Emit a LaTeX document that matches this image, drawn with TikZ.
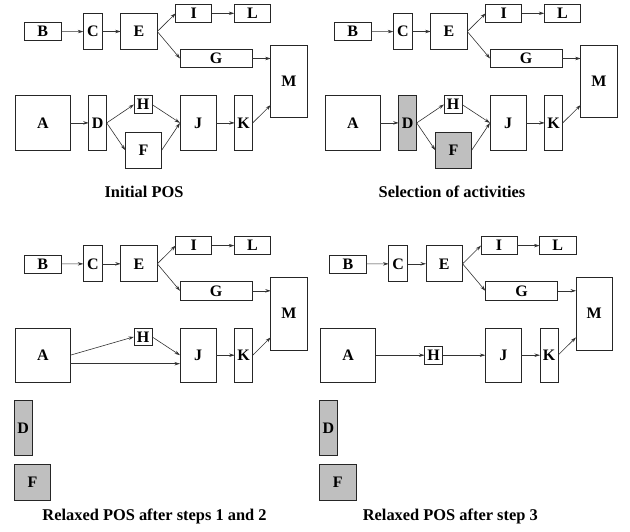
\documentclass[tikz,border=0pt]{standalone}
\usepackage{fontspec}
\setmainfont{Liberation Serif}
\usetikzlibrary{arrows.meta,calc}
\tikzset{
  box/.style={draw=black!85, line width=0.85pt, inner sep=0pt, outer sep=0pt, rectangle,
    font=\fontsize{16}{16}\selectfont\bfseries},
  sel/.style={box, fill=black!25},
  arr/.style={-{Stealth[length=5.5pt,width=3.4pt]}, line width=0.6pt, draw=black!80},
  caption/.style={font=\fontsize{16.4}{16.4}\selectfont\bfseries, inner sep=0pt}
}
\newcommand\toppart[1]{%
  \node[box,minimum width=36.7,minimum height=18] (B#1) at (42.7,31.7) {B};
  \node[box,minimum width=19,minimum height=36] (C#1) at (92.8,31.5) {C};
  \node[box,minimum width=36.6,minimum height=36] (E#1) at (139,31.5) {E};
  \node[box,minimum width=36,minimum height=18] (I#1) at (193.7,13.3) {I};
  \node[box,minimum width=36.4,minimum height=18] (L#1) at (252.5,13.3) {L};
  \node[box,minimum width=72.3,minimum height=18.4] (G#1) at (216.2,58.5) {G};
  \node[box,minimum width=36.3,minimum height=72.7] (M#1) at (288.9,81.4) {M};
  \node[box,minimum width=55,minimum height=54.3] (A#1) at (42.8,122.9) {A};
  \node[box,minimum width=36,minimum height=54.3] (J#1) at (198,122.9) {J};
  \node[box,minimum width=18,minimum height=54.3] (K#1) at (243.7,122.9) {K};
  \draw[arr] (B#1) -- (C#1);
  \draw[arr] (C#1) -- (E#1);
  \draw[arr] (E#1.east) -- (I#1.west);
  \draw[arr] (E#1.east) -- (G#1.west);
  \draw[arr] (I#1) -- (L#1);
  \draw[arr] (G#1.east) -- (G#1.east -| M#1.west);
  \draw[arr] (J#1) -- (K#1);
  \draw[arr] (K#1.east) -- ($(M#1.south west)+(0,-12.7)$);
}
\begin{document}
\begin{tikzpicture}[x=1pt,y=-1pt]
\useasboundingbox (0,0) rectangle (630,531);
% Panel 1
\begin{scope}
  \toppart{1}
  \node[box,minimum width=18,minimum height=54.3] (D1) at (97.7,122.9) {D};
  \node[box,minimum width=18,minimum height=17.6] (H1) at (143,104.5) {H};
  \node[box,minimum width=36.4,minimum height=36.3] (F1) at (143.5,150.2) {F};
  \draw[arr] (A1) -- (D1);
  \draw[arr] (D1.east) -- (H1.west);
  \draw[arr] (D1.east) -- (F1.west);
  \draw[arr] (H1.east) -- (J1.west);
  \draw[arr] (F1.east) -- (J1.west);
  \node[caption] (cap1) at (144,191.5) {Initial POS};
\end{scope}
% Panel 2
\begin{scope}[shift={(310,0)}]
  \toppart{2}
  \node[sel,minimum width=18,minimum height=54.3] (D2) at (97.7,122.9) {D};
  \node[box,minimum width=18,minimum height=17.6] (H2) at (143,104.5) {H};
  \node[sel,minimum width=36.4,minimum height=36.3] (F2) at (143.5,150.2) {F};
  \draw[arr] (A2) -- (D2);
  \draw[arr] (D2.east) -- (H2.west);
  \draw[arr] (D2.east) -- (F2.west);
  \draw[arr] (H2.east) -- (J2.west);
  \draw[arr] (F2.east) -- (J2.west);
  \node[caption] (cap2) at (142,191.5) {Selection of activities};
\end{scope}
% Panel 3
\begin{scope}[shift={(0,232.3)}]
  \toppart{3}
  \node[box,minimum width=18,minimum height=17.6] (H3) at (143,104.5) {H};
  \node[sel,minimum width=18.3,minimum height=54.3] (D3) at (23.2,195.5) {D};
  \node[sel,minimum width=36.7,minimum height=36.4] (F3) at (32.4,250.2) {F};
  \draw[arr] (A3.east) -- (H3.west);
  \draw[arr] ([yshift=-8.5pt]A3.east) -- ([yshift=-8.5pt]J3.west);
  \draw[arr] (H3.east) -- (J3.west);
  \node[caption] (cap3) at (154.5,284.5) {Relaxed POS after steps 1 and 2};
\end{scope}
% Panel 4
\begin{scope}[shift={(305.3,232.3)}]
  \toppart{4}
  \node[box,minimum width=18,minimum height=17.6] (H4) at (128.2,122.9) {H};
  \node[sel,minimum width=18.3,minimum height=54.3] (D4) at (23.2,195.5) {D};
  \node[sel,minimum width=36.7,minimum height=36.4] (F4) at (32.4,250.2) {F};
  \draw[arr] (A4) -- (H4);
  \draw[arr] (H4) -- (J4);
  \node[caption] (cap4) at (145,284.5) {Relaxed POS after step 3};
\end{scope}
\end{tikzpicture}
\end{document}
